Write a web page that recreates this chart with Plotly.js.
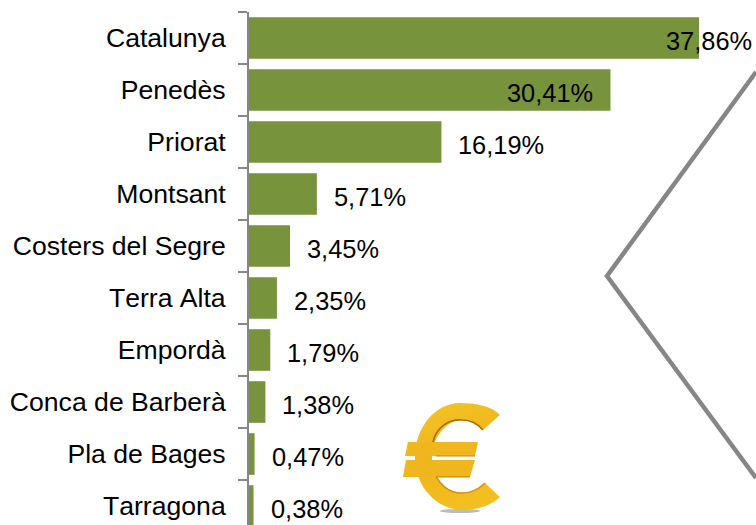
<!DOCTYPE html>
<html><head><meta charset="utf-8">
<script src="https://cdn.plot.ly/plotly-3.0.1.min.js"></script>
<style>html,body{margin:0;padding:0;background:#fff;overflow:hidden} svg text{font-kerning:none}</style></head>
<body><div id="chart" style="width:756px;height:525px"></div>
<script>
const categories = ["Catalunya","Penedès","Priorat","Montsant","Costers del Segre","Terra Alta","Empordà","Conca de Barberà","Pla de Bages","Tarragona"];
const shares = [37.86,30.41,16.19,5.71,3.45,2.35,1.79,1.38,0.47,0.38];
const shareLabels = ["37,86%","30,41%","16,19%","5,71%","3,45%","2,35%","1,79%","1,38%","0,47%","0,38%"];
const labelShifts = [-35,-106,15,15,15,15,15,15,15,15];
const GREY = "#868686", GREEN = "#77933c", FONT = "Liberation Sans, Arial, sans-serif";

const euroSvg = `<svg xmlns="http://www.w3.org/2000/svg" width="104" height="116" viewBox="0 0 104 116">
<defs><linearGradient id="g" x1="0" y1="0" x2="0.3" y2="1"><stop offset="0" stop-color="#f5c526"/><stop offset="0.55" stop-color="#eeb51c"/><stop offset="1" stop-color="#f3be1f"/></linearGradient></defs>
<ellipse cx="60" cy="111" rx="20" ry="2" fill="#bbb"/>
<path d="M100 15C92 6 76 3 60 3C35 3 15 28 15 57C15 88 38 110 63 110C78 110 92 105 100 97L85 83C78 90 70 93 62 93C47 93 32 78 32 57C32 38 47 20 62 20C70 20 78 24 83 30Z" fill="url(#g)"/>
<path d="M33 42C36 28 48 19 62 20C70 20 78 24 83 30" fill="none" stroke="#a86a06" stroke-width="1.6"/>
<path d="M34 72C40 86 50 93 62 93C70 93 78 90 85 83" fill="none" stroke="#d98f0c" stroke-width="1.6"/>
<path d="M8 42H78L75 56H5Z" fill="#efb71d"/>
<path d="M6 60H75L70 77H3Z" fill="#efb71d"/>
<path d="M36 56H75M36 77H70" stroke="#c98a0a" stroke-width="1.2" fill="none"/>
</svg>`;

const annotations = categories.map((c,i)=>({
  x: shares[i], y: c, xref:"x", yref:"y", text: shareLabels[i], showarrow:false,
  xanchor:"left", yanchor:"middle", xshift: labelShifts[i], yshift:-3,
  font:{family:FONT,size:25.4,color:"#000"}
}));

Plotly.newPlot("chart",[{
  type:"bar", orientation:"h", y:categories, x:shares,
  marker:{color:GREEN}, width:0.8, hoverinfo:"skip"
}],{
  width:756,height:525,
  margin:{l:249,r:0,t:12,b:0,pad:0},
  paper_bgcolor:"#fff",plot_bgcolor:"#fff",showlegend:false,
  xaxis:{range:[0,42.65],visible:false,fixedrange:true},
  yaxis:{type:"category",categoryorder:"array",categoryarray:categories,range:[9.365,-0.5],
    tickson:"boundaries",ticks:"outside",ticklen:9,tickwidth:2,tickcolor:GREY,
    showline:true,linecolor:GREY,linewidth:2,showgrid:false,zeroline:false,
    ticklabelstandoff:16,automargin:false,
    tickfont:{family:FONT,size:26.6,color:"#000"}},
  annotations,
  shapes:[{type:"path",xref:"paper",yref:"paper",
    path:"M 1 0.883 L 0.7061 0.4854 L 1 0.0916",
    line:{color:GREY,width:4.5}}],
  images:[{source:"data:image/svg+xml;utf8,"+encodeURIComponent(euroSvg),xref:"paper",yref:"paper",
    xanchor:"left",yanchor:"top",x:0.2978,y:0.2437,sizex:0.2051,sizey:0.2261,sizing:"stretch",layer:"above"}]
},{displayModeBar:false,staticPlot:true});
</script></body></html>
